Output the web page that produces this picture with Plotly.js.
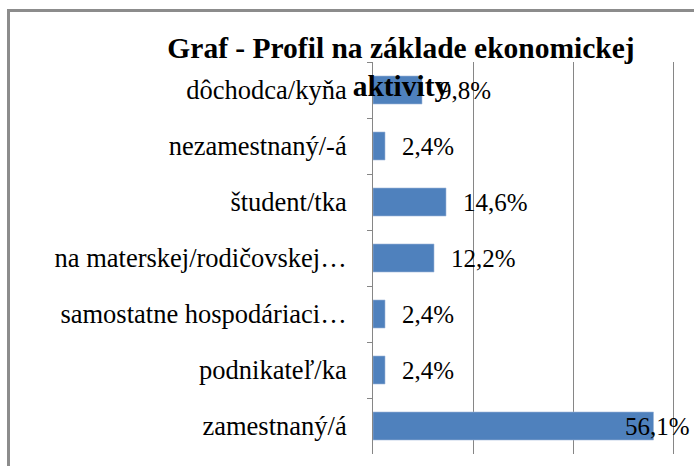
<!DOCTYPE html>
<html>
<head>
<meta charset="utf-8">
<script src="https://cdn.plot.ly/plotly-3.0.1.min.js"></script>
<style>
html,body{margin:0;padding:0;background:#fff;overflow:hidden}
#wrap{position:relative;width:694px;height:466px}
#frame{position:absolute;left:7px;top:9px;width:720px;height:480px;border-left:3px solid #8c8c8c;border-top:3px solid #8c8c8c;pointer-events:none}
</style>
</head>
<body>
<div id="wrap">
<div id="chart" style="width:694px;height:466px"></div>
<div id="frame"></div>
</div>
<script>
const categories = ["dôchodca/kyňa", "nezamestnaný/-á", "študent/tka", "na materskej/rodičovskej…", "samostatne hospodáriaci…", "podnikateľ/ka", "zamestnaný/á"];
const values = [9.8, 2.4, 14.6, 12.2, 2.4, 2.4, 56.1];
const labels = ["9,8%", "2,4%", "14,6%", "12,2%", "2,4%", "2,4%", "56,1%"];
const titleText = "Graf - Profil na základe ekonomickej<br>aktivity";

const xMax = 64.2;
const fontFam = "Liberation Serif";

const annotations = values.map((v, i) => {
  const overflow = v + 12 > xMax;
  return {
    x: overflow ? xMax : v, y: categories[i], xref: 'x', yref: 'y',
    text: labels[i], showarrow: false,
    xanchor: overflow ? 'right' : 'left',
    xshift: overflow ? -2 : 15,
    font: {family: fontFam, size: 25, color: '#000'}
  };
});

const trace = {
  type: 'bar', orientation: 'h',
  x: values, y: categories,
  marker: {color: '#4f81bd', line: {color: '#9db7d9', width: 0.6}},
  hoverinfo: 'skip'
};

const layout = {
  width: 694, height: 466,
  margin: {l: 373, r: 0, t: 62, b: 12},
  paper_bgcolor: '#fff', plot_bgcolor: '#fff',
  font: {family: fontFam, color: '#000'},
  bargap: 0.5,
  showlegend: false,
  title: {
    text: titleText,
    font: {family: fontFam, size: 29.5, color: '#000', weight: 'bold'},
    x: 401/694, xref: 'container', xanchor: 'center',
    y: 1 - 58/466, yref: 'container', yanchor: 'top'
  },
  xaxis: {
    range: [0, xMax], autorange: false,
    dtick: 20, tick0: 0,
    showgrid: true, gridcolor: '#868686', gridwidth: 1,
    showticklabels: false, zeroline: false, showline: false, ticks: ''
  },
  yaxis: {
    autorange: 'reversed',
    type: 'category',
    showline: true, linecolor: '#868686', linewidth: 1,
    ticks: 'outside', ticklen: 5, tickcolor: '#868686', tickson: 'boundaries',
    ticklabelstandoff: 20,
    tickfont: {family: fontFam, size: 26.5, color: '#000'},
    showgrid: false
  },
  annotations: annotations
};

Plotly.newPlot('chart', [trace], layout, {displayModeBar: false, staticPlot: true});
</script>
</body>
</html>
